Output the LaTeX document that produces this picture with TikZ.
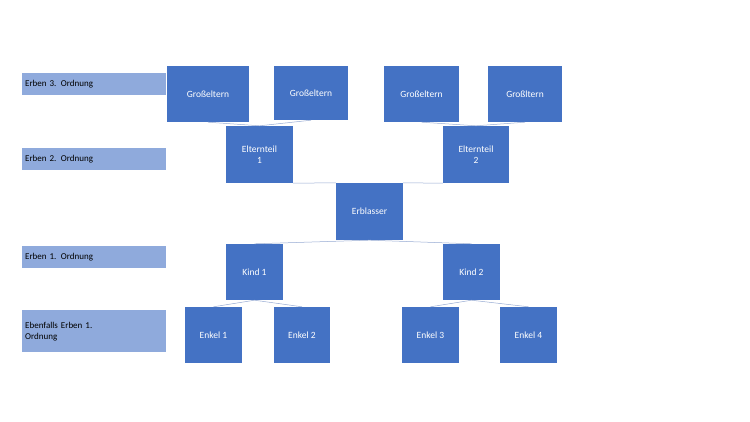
\documentclass[tikz,border=0pt]{standalone}
\usepackage{fontspec}
\setmainfont{Carlito}
\begin{document}
\begin{tikzpicture}[x=1pt,y=-1pt,
  box/.style={draw=none,fill={rgb,255:red,68;green,114;blue,196},text=white,font=\fontsize{9.5}{11}\selectfont,align=center,inner sep=0pt},
  lab/.style={fill={rgb,255:red,143;green,170;blue,220},text=black,font=\fontsize{9}{11}\selectfont,align=left,anchor=north west,inner sep=3pt,text width=138pt},
  con/.style={draw={rgb,255:red,150;green,170;blue,210},line width=0.5pt}]
\useasboundingbox (0,0) rectangle (750,422);
\newcommand{\bx}[6]{\node[box,minimum width=#4-#2,minimum height=#5-#3] (#1) at ({(#2+#4)/2},{(#3+#5)/2}) {#6};}
\bx{g1}{167}{66}{249}{122}{Großeltern}
\bx{g2}{274}{66}{348}{120}{Großeltern}
\bx{g3}{384}{66}{459}{122}{Großeltern}
\bx{g4}{488}{66}{562}{122}{Großltern}
\bx{e1}{226}{126}{293}{183}{Elternteil\\1}
\bx{e2}{443}{126}{509}{183}{Elternteil\\2}
\bx{erb}{336}{183}{403}{240}{Erblasser}
\bx{k1}{226}{244}{283}{300}{Kind 1}
\bx{k2}{443}{244}{500}{300}{Kind 2}
\bx{n1}{185}{307}{242}{363}{Enkel 1}
\bx{n2}{274}{307}{330}{363}{Enkel 2}
\bx{n3}{402}{307}{459}{363}{Enkel 3}
\bx{n4}{500}{307}{557}{363}{Enkel 4}
\node[lab,minimum height=22pt,inner ysep=0pt] (l3) at (22,73) {Erben 3. Ordnung};
\node[lab,minimum height=22pt,inner ysep=0pt] (l2) at (22,148) {Erben 2. Ordnung};
\node[lab,minimum height=22pt,inner ysep=0pt] (l1) at (22,246) {Erben 1. Ordnung};
\node[lab,minimum height=42pt,inner ysep=2pt] (l0) at (22,310) {Ebenfalls Erben 1.\\Ordnung};
\draw[con] (g1.south) -- (e1.north);
\draw[con] (g2.south) -- (e1.north);
\draw[con] (g3.south) -- (e2.north);
\draw[con] (g4.south) -- (e2.north);
\draw[con] (e1.south east) -- (erb.north west);
\draw[con] (e2.south west) -- (erb.north east);
\draw[con] (erb.south) -- (k1.north);
\draw[con] (erb.south) -- (k2.north);
\draw[con] (k1.south) -- (n1.north);
\draw[con] (k1.south) -- (n2.north);
\draw[con] (k2.south) -- (n3.north);
\draw[con] (k2.south) -- (n4.north);
\end{tikzpicture}
\end{document}
